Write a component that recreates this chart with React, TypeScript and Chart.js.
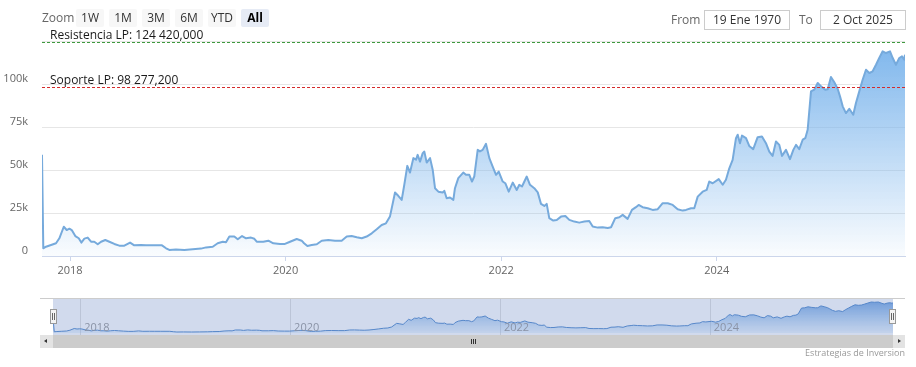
import React, { useEffect, useRef } from 'react';
import { Chart, registerables } from 'chart.js';

Chart.register(...registerables);

const FONT = '"Open Sans", "Noto Sans", "DejaVu Sans", sans-serif';

// Decimal-year dates of each sample
const dates = [
  2017.740, 2017.752, 2017.777, 2017.824, 2017.870, 2017.901, 2017.942, 2017.969, 2017.994,
  2018.016, 2018.049, 2018.081, 2018.105, 2018.133, 2018.164, 2018.195, 2018.225, 2018.257, 2018.288,
  2018.327, 2018.365, 2018.411, 2018.457, 2018.504, 2018.557, 2018.596, 2018.659, 2018.705, 2018.767,
  2018.853, 2018.891, 2018.921, 2018.983,
  2019.060, 2019.138, 2019.215, 2019.262, 2019.324, 2019.370, 2019.417, 2019.447, 2019.478, 2019.524,
  2019.556, 2019.596, 2019.633, 2019.679, 2019.710, 2019.732, 2019.793, 2019.840, 2019.886, 2019.948, 2019.994,
  2020.041, 2020.103, 2020.149, 2020.171, 2020.202, 2020.242, 2020.289, 2020.335, 2020.396, 2020.458,
  2020.520, 2020.567, 2020.613, 2020.660, 2020.706, 2020.752, 2020.799, 2020.845, 2020.891, 2020.931, 2020.968,
  2021.015, 2021.045, 2021.077, 2021.101, 2021.129, 2021.154, 2021.185, 2021.210, 2021.225, 2021.247,
  2021.272, 2021.287, 2021.309, 2021.340, 2021.365, 2021.386, 2021.417, 2021.457, 2021.472, 2021.494,
  2021.525, 2021.556, 2021.571, 2021.602, 2021.648, 2021.673, 2021.704, 2021.729, 2021.750, 2021.782,
  2021.803, 2021.828, 2021.859, 2021.890, 2021.921, 2021.952, 2021.977,
  2022.014, 2022.038, 2022.070, 2022.107, 2022.144, 2022.168, 2022.193, 2022.237, 2022.267, 2022.307,
  2022.339, 2022.369, 2022.400, 2022.422, 2022.446, 2022.483, 2022.515, 2022.555, 2022.595, 2022.632,
  2022.678, 2022.724, 2022.771, 2022.817, 2022.849, 2022.895, 2022.941, 2022.988,
  2023.019, 2023.058, 2023.096, 2023.127, 2023.173, 2023.213, 2023.250, 2023.275, 2023.312, 2023.359,
  2023.405, 2023.452, 2023.498, 2023.545, 2023.591, 2023.637, 2023.684, 2023.714, 2023.761, 2023.791,
  2023.823, 2023.869, 2023.906, 2023.930, 2023.962,
  2024.018, 2024.055, 2024.085, 2024.116, 2024.147, 2024.178, 2024.194, 2024.215, 2024.234, 2024.271,
  2024.301, 2024.338, 2024.379, 2024.419, 2024.456, 2024.487, 2024.518, 2024.549, 2024.580, 2024.605,
  2024.642, 2024.679, 2024.710, 2024.735, 2024.765, 2024.797, 2024.821, 2024.843, 2024.874, 2024.904,
  2024.936, 2024.967,
  2025.006, 2025.029, 2025.059, 2025.090, 2025.122, 2025.143, 2025.168, 2025.198, 2025.229, 2025.266,
  2025.291, 2025.322, 2025.353, 2025.384, 2025.415, 2025.446, 2025.477, 2025.507, 2025.539, 2025.570,
  2025.607, 2025.632, 2025.662, 2025.693, 2025.718, 2025.739, 2025.746,
];

// Price in USD at each date
const prices = [
  58800, 4500, 5400, 6400, 7400, 10300, 17000, 15100, 15900,
  15100, 11600, 10300, 7800, 10100, 10700, 8300, 8300, 6800, 8300,
  9300, 8300, 7000, 6000, 6000, 7800, 6200, 6400, 6300, 6300,
  6200, 4500, 3500, 3800,
  3500, 3900, 4300, 5000, 5400, 7400, 8300, 8000, 11300, 11300,
  9700, 11600, 10300, 10700, 10000, 8300, 8300, 8900, 7400, 7000, 7000,
  8300, 9900, 8900, 7400, 5800, 6400, 6800, 8900, 9300, 8900,
  8900, 11300, 11600, 10900, 10300, 11300, 13200, 15500, 18000, 19000, 22900,
  36900, 35000, 32600, 41400, 52400, 48500, 56900, 56000, 58800, 54900,
  59800, 60700, 54300, 56900, 50000, 39400, 37400, 36900, 37900, 33600,
  34000, 32600, 39400, 45300, 48500, 47200, 47200, 43300, 46200, 61700,
  60800, 61700, 65200, 56900, 52000, 47200, 49100,
  43300, 42300, 37400, 42700, 38400, 41400, 40400, 46200, 41400, 39400,
  37000, 30300, 29100, 30300, 22000, 20600, 20900, 22900, 23300, 21000,
  20000, 19400, 20000, 20400, 17100, 16500, 16700, 16300,
  16700, 22000, 22500, 23900, 21600, 26800, 28400, 29700, 28400, 27800,
  26800, 27200, 30700, 30700, 29700, 27200, 26400, 26800, 27800, 27800,
  34500, 37400, 38400, 43300, 42300,
  44700, 41400, 44300, 51000, 55900, 68500, 70500, 65600, 70000, 68500,
  64000, 62100, 69100, 69500, 65600, 60700, 58200, 66600, 64600, 58200,
  61700, 56300, 61700, 64600, 62100, 67600, 68500, 73400, 95700, 96700,
  100600, 98600,
  96700, 97000, 104100, 101000, 97100, 92800, 87000, 83100, 85600, 82100,
  88900, 95700, 102500, 108300, 106400, 107400, 111200, 115100, 119000, 118000,
  119000, 115100, 111200, 115100, 116100, 114200, 117000,
];

const yearTicks = [2018, 2020, 2022, 2024];
const yMax = 125000;
const yStep = 25000;

const plotLineValues = [124420, 98277.2];
const plotLineLabels = ['Resistencia LP: 124 420,000', 'Soporte LP: 98 277,200'];
const plotLineColors = ['#3f9a3f', '#d42a2a'];

const zoomLabel = 'Zoom';
const zoomButtons = ['1W', '1M', '3M', '6M', 'YTD', 'All'];
const selectedButton = 'All';
const fromLabel = 'From';
const toLabel = 'To';
const fromDate = '19 Ene 1970';
const toDate = '2 Oct 2025';
const creditText = 'Estrategias de Inversion';

const navYMin = -8000;
const navYMax = 130600;

const points = () => dates.map((d, i) => ({ x: d, y: prices[i] }));

const plotLinesPlugin = {
  id: 'plotLines',
  afterDatasetsDraw(chart: any) {
    const { ctx, chartArea, scales } = chart;
    const y = scales.y;
    ctx.save();
    plotLineValues.forEach((v, i) => {
      const py = Math.round(y.getPixelForValue(v)) + 0.5;
      ctx.strokeStyle = plotLineColors[i];
      ctx.lineWidth = 1;
      ctx.setLineDash([3, 2]);
      ctx.beginPath();
      ctx.moveTo(chartArea.left, py);
      ctx.lineTo(chartArea.right, py);
      ctx.stroke();
      ctx.setLineDash([]);
      ctx.fillStyle = '#1a1a1a';
      ctx.font = `12px ${FONT}`;
      ctx.textAlign = 'left';
      ctx.textBaseline = 'alphabetic';
      ctx.fillText(plotLineLabels[i], chartArea.left + 8, py - 3.5);
    });
    ctx.restore();
  },
};

const navDecorPlugin = {
  id: 'navDecor',
  beforeDatasetsDraw(chart: any) {
    const { ctx, chartArea, scales } = chart;
    ctx.save();
    ctx.strokeStyle = '#e0e0e0';
    ctx.lineWidth = 1;
    yearTicks.forEach((v) => {
      const px = Math.round(scales.x.getPixelForValue(v)) + 0.5;
      ctx.beginPath();
      ctx.moveTo(px, chartArea.top);
      ctx.lineTo(px, chartArea.bottom);
      ctx.stroke();
    });
    ctx.restore();
  },
  afterDatasetsDraw(chart: any) {
    const { ctx, chartArea, scales } = chart;
    ctx.save();
    ctx.fillStyle = '#999999';
    ctx.font = `11px ${FONT}`;
    ctx.textAlign = 'left';
    ctx.textBaseline = 'middle';
    yearTicks.forEach((v) => {
      const px = scales.x.getPixelForValue(v);
      ctx.fillText(String(v), px + 4, chartArea.bottom - 7);
    });
    ctx.fillStyle = 'rgba(102,133,194,0.3)';
    ctx.fillRect(chartArea.left, chartArea.top, chartArea.right - chartArea.left, chartArea.bottom - chartArea.top);
    ctx.restore();
  },
};

export default function App() {
  const mainRef = useRef<HTMLCanvasElement>(null);
  const navRef = useRef<HTMLCanvasElement>(null);

  useEffect(() => {
    Chart.defaults.font.family = FONT;
    const main = new Chart(mainRef.current as HTMLCanvasElement, {
      type: 'line',
      data: {
        datasets: [
          {
            data: points(),
            borderColor: '#76aadc',
            borderWidth: 2,
            borderJoinStyle: 'round',
            pointRadius: 0,
            tension: 0,
            fill: 'origin',
            backgroundColor: (c: any) => {
              const { ctx, chartArea } = c.chart;
              if (!chartArea) return 'rgba(124,181,236,0.4)';
              const g = ctx.createLinearGradient(0, chartArea.top, 0, chartArea.bottom);
              g.addColorStop(0, 'rgba(124,181,236,1)');
              g.addColorStop(1, 'rgba(124,181,236,0.04)');
              return g;
            },
          } as any,
        ],
      },
      options: {
        responsive: false,
        animation: false,
        layout: { padding: { left: 0, right: 11, top: 41, bottom: 0 } },
        plugins: { legend: { display: false }, tooltip: { enabled: false } },
        scales: {
          x: {
            type: 'linear',
            min: dates[0],
            max: dates[dates.length - 1],
            afterBuildTicks: (ax: any) => {
              ax.ticks = yearTicks.map((v) => ({ value: v }));
            },
            afterFit: (s: any) => {
              s.height = 34;
            },
            ticks: {
              callback: (v: any) => String(v),
              color: '#666666',
              font: { size: 11 },
              padding: 3,
              maxRotation: 0,
              autoSkip: false,
            },
            grid: { drawOnChartArea: false, color: '#ccd6eb', tickLength: 5 },
            border: { color: '#ccd6eb', width: 1 },
          },
          y: {
            min: 0,
            max: yMax,
            afterFit: (s: any) => {
              s.width = 42;
            },
            ticks: {
              stepSize: yStep,
              callback: (v: any) => (v === 0 ? '0' : v >= yMax ? '' : `${v / 1000}k`),
              color: '#666666',
              font: { size: 11 },
              padding: 14,
              labelOffset: -5,
            },
            grid: { color: '#e6e6e6', drawTicks: false },
            border: { display: false },
          },
        },
      },
      plugins: [plotLinesPlugin],
    });

    const nav = new Chart(navRef.current as HTMLCanvasElement, {
      type: 'line',
      data: {
        datasets: [
          {
            data: points(),
            borderColor: '#4f88cc',
            borderWidth: 1,
            pointRadius: 0,
            tension: 0,
            fill: 'origin',
            backgroundColor: (c: any) => {
              const { ctx, chartArea } = c.chart;
              if (!chartArea) return 'rgba(124,181,236,0.4)';
              const g = ctx.createLinearGradient(0, chartArea.top, 0, chartArea.bottom);
              g.addColorStop(0, 'rgba(100,155,222,0.95)');
              g.addColorStop(1, 'rgba(124,181,236,0.1)');
              return g;
            },
          } as any,
        ],
      },
      options: {
        responsive: false,
        animation: false,
        layout: { padding: 0 },
        plugins: { legend: { display: false }, tooltip: { enabled: false } },
        scales: {
          x: { type: 'linear', display: false, min: dates[0], max: dates[dates.length - 1] },
          y: { display: false, min: navYMin, max: navYMax },
        },
      },
      plugins: [navDecorPlugin],
    });

    return () => {
      main.destroy();
      nav.destroy();
    };
  }, []);

  const txt: React.CSSProperties = { position: 'absolute', fontFamily: FONT, fontSize: 12, whiteSpace: 'nowrap' };

  return (
    <div style={{ position: 'absolute', left: 0, top: 0, width: 916, height: 367, overflow: 'hidden', background: '#fff' }}>
      <canvas ref={mainRef} width={916} height={290} style={{ position: 'absolute', left: 0, top: 0, display: 'block' }} />
      <canvas ref={navRef} width={840} height={36} style={{ position: 'absolute', left: 53, top: 299, display: 'block' }} />

      {/* range selector */}
      <div style={{ ...txt, left: 42, top: 9, height: 18, lineHeight: '18px', color: '#666' }}>{zoomLabel}</div>
      {zoomButtons.map((b, i) => {
        const sel = b === selectedButton;
        return (
          <div
            key={b}
            style={{
              ...txt,
              left: 76 + i * 33,
              top: 9,
              width: 28,
              height: 18,
              lineHeight: '18px',
              textAlign: 'center',
              background: sel ? '#e6ebf5' : '#f7f7f7',
              color: sel ? '#000' : '#333',
              fontWeight: sel ? 700 : 400,
              borderRadius: 2,
            }}
          >
            {b}
          </div>
        );
      })}
      <div style={{ ...txt, left: 671, top: 10, height: 19, lineHeight: '19px', color: '#666' }}>{fromLabel}</div>
      <div style={{ ...txt, left: 704, top: 10, width: 84, height: 18, lineHeight: '18px', textAlign: 'center', border: '1px solid #cccccc', color: '#333' }}>{fromDate}</div>
      <div style={{ ...txt, left: 799, top: 10, height: 19, lineHeight: '19px', color: '#666' }}>{toLabel}</div>
      <div style={{ ...txt, left: 820, top: 10, width: 84, height: 18, lineHeight: '18px', textAlign: 'center', border: '1px solid #cccccc', color: '#333' }}>{toDate}</div>

      {/* navigator outline */}
      <div style={{ position: 'absolute', left: 40, top: 298, width: 865, height: 1, background: '#cccccc' }} />
      {/* handles */}
      {[50, 889].map((l) => (
        <div key={l} style={{ position: 'absolute', left: l, top: 309, width: 5, height: 13, background: '#f4f4f4', border: '1px solid #999' }}>
          <div style={{ position: 'absolute', left: 1, top: 3, width: 1, height: 7, background: '#666' }} />
          <div style={{ position: 'absolute', left: 3, top: 3, width: 1, height: 7, background: '#666' }} />
        </div>
      ))}

      {/* scrollbar */}
      <div style={{ position: 'absolute', left: 40, top: 335, width: 13, height: 13, background: '#e3e3e3' }}>
        <div style={{ position: 'absolute', left: 4, top: 4, width: 0, height: 0, borderTop: '2.5px solid transparent', borderBottom: '2.5px solid transparent', borderRight: '3px solid #333' }} />
      </div>
      <div style={{ position: 'absolute', left: 53, top: 335, width: 840, height: 13, background: '#cccccc' }}>
        {[-2, 0, 2].map((o) => (
          <div key={o} style={{ position: 'absolute', left: 420 + o, top: 4, width: 1, height: 5, background: '#333' }} />
        ))}
      </div>
      <div style={{ position: 'absolute', left: 893, top: 335, width: 12, height: 13, background: '#e3e3e3' }}>
        <div style={{ position: 'absolute', left: 5, top: 4, width: 0, height: 0, borderTop: '2.5px solid transparent', borderBottom: '2.5px solid transparent', borderLeft: '3px solid #333' }} />
      </div>

      {/* credit */}
      <div style={{ ...txt, right: 11, top: 346, fontSize: 9, lineHeight: '13px', color: '#999' }}>{creditText}</div>
    </div>
  );
}
